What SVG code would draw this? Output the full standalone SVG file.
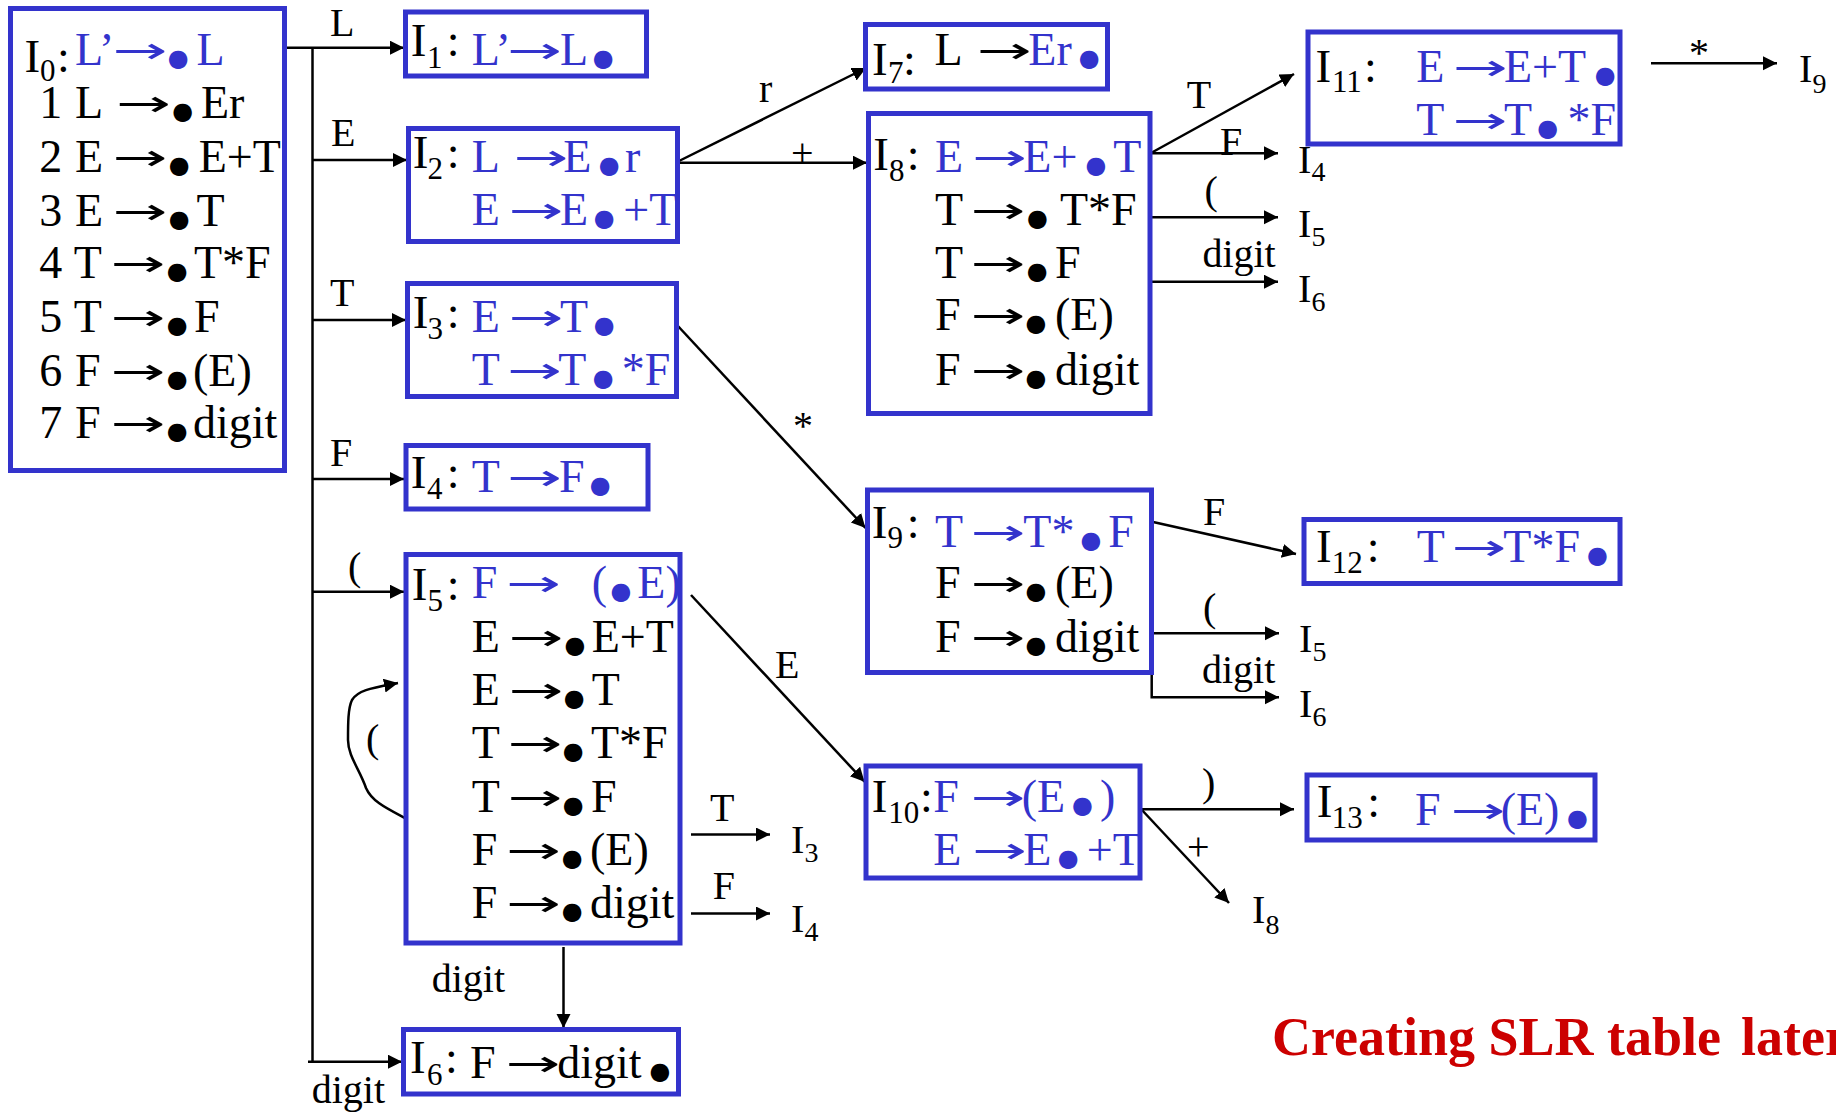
<svg xmlns="http://www.w3.org/2000/svg" width="1836" height="1114" viewBox="0 0 1836 1114">
<style>
.t{font-family:"Liberation Serif","Times New Roman",serif;font-size:46px;fill:#000}
.bl{fill:#3333CC}
.I{font-size:47px}
.s{font-size:31px}
.d{font-family:"DejaVu Sans",sans-serif;font-size:24px}
.a{font-family:"DejaVu Sans",sans-serif;font-size:36px}
.lb{font-family:"Liberation Serif","Times New Roman",serif;font-size:40px;fill:#000}
.ls{font-size:28px}
.box{fill:#fff;stroke:#3333CC;stroke-width:5}
.ln{fill:none;stroke:#000;stroke-width:2.5}
.red{font-family:"Liberation Serif","Times New Roman",serif;font-size:54px;font-weight:bold;fill:#CC0000}
</style>
<defs>
<marker id="ah" markerUnits="userSpaceOnUse" markerWidth="16" markerHeight="16" refX="14" refY="7" orient="auto">
<path d="M0,0 L14,7 L0,14 z" fill="#000"/>
</marker>
</defs>
<rect width="1836" height="1114" fill="#fff"/>

<g id="connectors">
<path class="ln" d="M284,47.7 H404" marker-end="url(#ah)"/>
<path class="ln" d="M312.5,47.7 V1061.7"/>
<path class="ln" d="M312.5,160 H407" marker-end="url(#ah)"/>
<path class="ln" d="M312.5,320 H406" marker-end="url(#ah)"/>
<path class="ln" d="M312.5,479 H404" marker-end="url(#ah)"/>
<path class="ln" d="M312.5,591.7 H404" marker-end="url(#ah)"/>
<path class="ln" d="M308,1061.7 H402" marker-end="url(#ah)"/>
<path class="ln" d="M406.7,819 C388,809 372,802 366,788 C360,770 348,756 348,740 C348,724 348,708 352,700 C358,690 372,688 398,683" marker-end="url(#ah)"/>
<path class="ln" d="M563.5,947 V1028" marker-end="url(#ah)"/>
<path class="ln" d="M691,834.5 H770" marker-end="url(#ah)"/>
<path class="ln" d="M691,913.5 H770" marker-end="url(#ah)"/>
<path class="ln" d="M691,595 L864.5,781.7" marker-end="url(#ah)"/>
<path class="ln" d="M677,162 L866,68" marker-end="url(#ah)"/>
<path class="ln" d="M677,162.7 H867" marker-end="url(#ah)"/>
<path class="ln" d="M677,325 L865.5,528" marker-end="url(#ah)"/>
<path class="ln" d="M1151,153 L1294,74" marker-end="url(#ah)"/>
<path class="ln" d="M1151,153.3 H1278" marker-end="url(#ah)"/>
<path class="ln" d="M1151,217.3 H1278" marker-end="url(#ah)"/>
<path class="ln" d="M1151,281.7 H1278" marker-end="url(#ah)"/>
<path class="ln" d="M1152,521.7 L1296,554" marker-end="url(#ah)"/>
<path class="ln" d="M1152,633.3 H1279" marker-end="url(#ah)"/>
<path class="ln" d="M1151.7,672.7 V697.3 H1279" marker-end="url(#ah)"/>
<path class="ln" d="M1141,809.3 H1294" marker-end="url(#ah)"/>
<path class="ln" d="M1141,809 L1229,903" marker-end="url(#ah)"/>
<path class="ln" d="M1651,63.3 H1777" marker-end="url(#ah)"/>
</g>

<g id="edge-labels">
<text class="lb" x="330" y="36">L</text>
<text class="lb" x="331" y="146">E</text>
<text class="lb" x="330" y="306">T</text>
<text class="lb" x="330" y="466">F</text>
<text class="lb" x="348" y="580">(</text>
<text class="lb" x="366" y="752">(</text>
<text class="lb" x="759" y="101.7">r</text>
<text class="lb" x="791" y="166">+</text>
<text class="lb" x="793" y="439">*</text>
<text class="lb" x="775" y="677.6">E</text>
<text class="lb" x="710" y="820.7">T</text>
<text class="lb" x="712.7" y="899">F</text>
<text class="lb" x="431.7" y="991.7">digit</text>
<text class="lb" x="311.7" y="1103">digit</text>
<text class="lb" x="1186.8" y="108.3">T</text>
<text class="lb" x="1220" y="155">F</text>
<text class="lb" x="1204.6" y="204">(</text>
<text class="lb" x="1202.4" y="267">digit</text>
<text class="lb" x="1203" y="525">F</text>
<text class="lb" x="1203" y="621">(</text>
<text class="lb" x="1202" y="683">digit</text>
<text class="lb" x="1202" y="796">)</text>
<text class="lb" x="1187" y="860">+</text>
<text class="lb" x="1689" y="66">*</text>
<text class="lb" x="1298" y="173">I<tspan class="ls" x="1311.5" y="181">4</tspan></text>
<text class="lb" x="1298" y="236.7">I<tspan class="ls" x="1311.5" y="246">5</tspan></text>
<text class="lb" x="1298" y="301.7">I<tspan class="ls" x="1311.5" y="311">6</tspan></text>
<text class="lb" x="1299" y="651.7">I<tspan class="ls" x="1312.5" y="661">5</tspan></text>
<text class="lb" x="1299" y="716.7">I<tspan class="ls" x="1312.5" y="726">6</tspan></text>
<text class="lb" x="791" y="853">I<tspan class="ls" x="804.5" y="862">3</tspan></text>
<text class="lb" x="791" y="931.6">I<tspan class="ls" x="804.5" y="941">4</tspan></text>
<text class="lb" x="1252" y="923">I<tspan class="ls" x="1265.5" y="934">8</tspan></text>
<text class="lb" x="1799" y="81.7">I<tspan class="ls" x="1812.5" y="92.5">9</tspan></text>
</g>

<g id="I0">
<rect class="box" x="10.5" y="8.5" width="274" height="462"/>
<text class="t"><tspan class="I" x="24.5" y="71.7">I</tspan><tspan class="s" x="40" y="81">0</tspan><tspan x="57" y="71.7">:</tspan><tspan class="bl" x="75" y="65">L’</tspan><tspan class="bl a" x="112.4" y="65" dy="-2" textLength="55" lengthAdjust="spacingAndGlyphs">→</tspan><tspan class="bl d" x="167.7" y="66">●</tspan><tspan class="bl" x="196.4" y="65">L</tspan></text>
<text class="t"><tspan x="39.3" y="118.3">1</tspan><tspan x="75" y="118.3">L</tspan><tspan class="a" x="115.9" y="118.3" dy="-2" textLength="55" lengthAdjust="spacingAndGlyphs">→</tspan><tspan class="d" x="172.2" y="119.3">●</tspan><tspan x="201" y="118.3">Er</tspan></text>
<text class="t"><tspan x="39.3" y="171.7">2</tspan><tspan x="75" y="171.7">E</tspan><tspan class="a" x="112.4" y="171.7" dy="-2" textLength="55" lengthAdjust="spacingAndGlyphs">→</tspan><tspan class="d" x="168.7" y="172.7">●</tspan><tspan x="198.7" y="171.7">E+T</tspan></text>
<text class="t"><tspan x="39.3" y="226">3</tspan><tspan x="75" y="226">E</tspan><tspan class="a" x="112.4" y="226" dy="-2" textLength="55" lengthAdjust="spacingAndGlyphs">→</tspan><tspan class="d" x="168.7" y="227">●</tspan><tspan x="196.4" y="226">T</tspan></text>
<text class="t"><tspan x="39.3" y="278.3">4</tspan><tspan x="73.7" y="278.3">T</tspan><tspan class="a" x="110.4" y="278.3" dy="-2" textLength="55" lengthAdjust="spacingAndGlyphs">→</tspan><tspan class="d" x="166.7" y="279.3">●</tspan><tspan x="194" y="278.3">T*F</tspan></text>
<text class="t"><tspan x="39.3" y="331.7">5</tspan><tspan x="73.7" y="331.7">T</tspan><tspan class="a" x="110.4" y="331.7" dy="-2" textLength="55" lengthAdjust="spacingAndGlyphs">→</tspan><tspan class="d" x="166.7" y="332.7">●</tspan><tspan x="194" y="331.7">F</tspan></text>
<text class="t"><tspan x="39.3" y="386">6</tspan><tspan x="75" y="386">F</tspan><tspan class="a" x="110.4" y="386" dy="-2" textLength="55" lengthAdjust="spacingAndGlyphs">→</tspan><tspan class="d" x="166.7" y="387">●</tspan><tspan x="193" y="386">(E)</tspan></text>
<text class="t"><tspan x="39.3" y="438.3">7</tspan><tspan x="75" y="438.3">F</tspan><tspan class="a" x="110.4" y="438.3" dy="-2" textLength="55" lengthAdjust="spacingAndGlyphs">→</tspan><tspan class="d" x="166.7" y="439.3">●</tspan><tspan x="193" y="438.3">digit</tspan></text>
</g>

<g id="I1">
<rect class="box" x="405.5" y="12" width="241" height="64"/>
<text class="t"><tspan class="I" x="410.7" y="56">I</tspan><tspan class="s" x="427" y="68">1</tspan><tspan x="446.7" y="56">:</tspan><tspan class="bl" x="471.7" y="65">L’</tspan><tspan class="bl a" x="507.1" y="65" dy="-2" textLength="55" lengthAdjust="spacingAndGlyphs">→</tspan><tspan class="bl" x="560" y="65">L</tspan><tspan class="bl d" x="592.7" y="66">●</tspan></text>
</g>

<g id="I2">
<rect class="box" x="408.5" y="128.5" width="269" height="113"/>
<text class="t"><tspan class="I" x="412.7" y="168.3">I</tspan><tspan class="s" x="427.5" y="179">2</tspan><tspan x="446.7" y="168.3">:</tspan><tspan class="bl" x="471.7" y="171.7">L</tspan><tspan class="bl a" x="513.4" y="171.7" dy="-2" textLength="55" lengthAdjust="spacingAndGlyphs">→</tspan><tspan class="bl" x="563.3" y="171.7">E</tspan><tspan class="bl d" x="598.7" y="172.7">●</tspan><tspan class="bl" x="625" y="171.7">r</tspan></text>
<text class="t bl"><tspan x="471.7" y="225">E</tspan><tspan class="a" x="508.4" y="225" dy="-2" textLength="55" lengthAdjust="spacingAndGlyphs">→</tspan><tspan x="560" y="225">E</tspan><tspan class="d" x="593.7" y="226">●</tspan><tspan x="623.3" y="225">+T</tspan></text>
</g>

<g id="I3">
<rect class="box" x="407.5" y="283.5" width="269" height="113"/>
<text class="t"><tspan class="I" x="412.7" y="328">I</tspan><tspan class="s" x="427.5" y="339">3</tspan><tspan x="446.7" y="328">:</tspan><tspan class="bl" x="471.7" y="331.7">E</tspan><tspan class="bl a" x="508.4" y="331.7" dy="-2" textLength="55" lengthAdjust="spacingAndGlyphs">→</tspan><tspan class="bl" x="560" y="331.7">T</tspan><tspan class="bl d" x="593.7" y="332.7">●</tspan></text>
<text class="t bl"><tspan x="471.7" y="385">T</tspan><tspan class="a" x="507.1" y="385" dy="-2" textLength="55" lengthAdjust="spacingAndGlyphs">→</tspan><tspan x="558.3" y="385">T</tspan><tspan class="d" x="592.7" y="386">●</tspan><tspan x="621.7" y="385">*F</tspan></text>
</g>

<g id="I4">
<rect class="box" x="406" y="445.5" width="242" height="63.5"/>
<text class="t"><tspan class="I" x="410.7" y="488">I</tspan><tspan class="s" x="427" y="499">4</tspan><tspan x="446.7" y="488">:</tspan><tspan class="bl" x="471.7" y="491.7">T</tspan><tspan class="bl a" x="507.1" y="491.7" dy="-2" textLength="55" lengthAdjust="spacingAndGlyphs">→</tspan><tspan class="bl" x="559" y="491.7">F</tspan><tspan class="bl d" x="589.7" y="492.7">●</tspan></text>
</g>

<g id="I5">
<rect class="box" x="406" y="554.5" width="274" height="388.5"/>
<text class="t"><tspan class="I" x="411.7" y="600">I</tspan><tspan class="s" x="427.5" y="611">5</tspan><tspan x="446.7" y="600">:</tspan><tspan class="bl" x="471.7" y="598.3">F</tspan><tspan class="bl a" x="506.1" y="598.3" dy="-2" textLength="55" lengthAdjust="spacingAndGlyphs">→</tspan><tspan class="bl" x="591.7" y="598.3">(</tspan><tspan class="bl d" x="610.4" y="599.3">●</tspan><tspan class="bl" x="637.3" y="598.3">E)</tspan></text>
<text class="t"><tspan x="471.7" y="651.7">E</tspan><tspan class="a" x="508.4" y="651.7" dy="-2" textLength="55" lengthAdjust="spacingAndGlyphs">→</tspan><tspan class="d" x="564.4" y="652.7">●</tspan><tspan x="591.7" y="651.7">E+T</tspan></text>
<text class="t"><tspan x="471.7" y="705">E</tspan><tspan class="a" x="508.4" y="705" dy="-2" textLength="55" lengthAdjust="spacingAndGlyphs">→</tspan><tspan class="d" x="563.7" y="706">●</tspan><tspan x="591.7" y="705">T</tspan></text>
<text class="t"><tspan x="471.7" y="758.3">T</tspan><tspan class="a" x="507.4" y="758.3" dy="-2" textLength="55" lengthAdjust="spacingAndGlyphs">→</tspan><tspan class="d" x="562.7" y="759.3">●</tspan><tspan x="591" y="758.3">T*F</tspan></text>
<text class="t"><tspan x="471.7" y="811.7">T</tspan><tspan class="a" x="507.4" y="811.7" dy="-2" textLength="55" lengthAdjust="spacingAndGlyphs">→</tspan><tspan class="d" x="562.7" y="812.7">●</tspan><tspan x="591" y="811.7">F</tspan></text>
<text class="t"><tspan x="471.7" y="865">F</tspan><tspan class="a" x="506.1" y="865" dy="-2" textLength="55" lengthAdjust="spacingAndGlyphs">→</tspan><tspan class="d" x="561.7" y="866">●</tspan><tspan x="590" y="865">(E)</tspan></text>
<text class="t"><tspan x="471.7" y="918.3">F</tspan><tspan class="a" x="506.1" y="918.3" dy="-2" textLength="55" lengthAdjust="spacingAndGlyphs">→</tspan><tspan class="d" x="561.7" y="919.3">●</tspan><tspan x="590" y="918.3">digit</tspan></text>
</g>

<g id="I6">
<rect class="box" x="403.5" y="1029.5" width="275" height="64.5"/>
<text class="t"><tspan class="I" x="410" y="1073.3">I</tspan><tspan class="s" x="427" y="1085">6</tspan><tspan x="445" y="1073.3">:</tspan><tspan x="470" y="1078.3">F</tspan><tspan class="a" x="505.4" y="1078.3" dy="-2" textLength="55" lengthAdjust="spacingAndGlyphs">→</tspan><tspan x="557.3" y="1078.3">digit</tspan><tspan class="d" x="649.4" y="1079.3">●</tspan></text>
</g>

<g id="I7">
<rect class="box" x="865.5" y="24.5" width="242" height="64.5"/>
<text class="t"><tspan class="I" x="872" y="75">I</tspan><tspan class="s" x="888" y="83">7</tspan><tspan x="903" y="75">:</tspan><tspan x="934.6" y="65">L</tspan><tspan class="a" x="976.8" y="65" dy="-2" textLength="55" lengthAdjust="spacingAndGlyphs">→</tspan><tspan class="bl" x="1028.3" y="65">Er</tspan><tspan class="bl d" x="1078.7" y="66">●</tspan></text>
</g>

<g id="I8">
<rect class="box" x="868.5" y="113.5" width="281.5" height="300"/>
<text class="t"><tspan class="I" x="873.3" y="170">I</tspan><tspan class="s" x="889" y="181">8</tspan><tspan x="906.7" y="170">:</tspan><tspan class="bl" x="935" y="171.7">E</tspan><tspan class="bl a" x="972.1" y="171.7" dy="-2" textLength="55" lengthAdjust="spacingAndGlyphs">→</tspan><tspan class="bl" x="1023.3" y="171.7">E+</tspan><tspan class="bl d" x="1085.4" y="172.7">●</tspan><tspan class="bl" x="1113.3" y="171.7">T</tspan></text>
<text class="t"><tspan x="935" y="225">T</tspan><tspan class="a" x="970.4" y="225" dy="-2" textLength="55" lengthAdjust="spacingAndGlyphs">→</tspan><tspan class="d" x="1027" y="226">●</tspan><tspan x="1060" y="225">T*F</tspan></text>
<text class="t"><tspan x="935" y="278.3">T</tspan><tspan class="a" x="970.4" y="278.3" dy="-2" textLength="55" lengthAdjust="spacingAndGlyphs">→</tspan><tspan class="d" x="1026.7" y="279.3">●</tspan><tspan x="1055" y="278.3">F</tspan></text>
<text class="t"><tspan x="935" y="330">F</tspan><tspan class="a" x="970.4" y="330" dy="-2" textLength="55" lengthAdjust="spacingAndGlyphs">→</tspan><tspan class="d" x="1025.4" y="331">●</tspan><tspan x="1055" y="330">(E)</tspan></text>
<text class="t"><tspan x="935" y="385">F</tspan><tspan class="a" x="970.4" y="385" dy="-2" textLength="55" lengthAdjust="spacingAndGlyphs">→</tspan><tspan class="d" x="1025.4" y="386">●</tspan><tspan x="1055" y="385">digit</tspan></text>
</g>

<g id="I9">
<rect class="box" x="867.5" y="490" width="284" height="182.5"/>
<text class="t"><tspan class="I" x="871.7" y="538.3">I</tspan><tspan class="s" x="887.5" y="548">9</tspan><tspan x="906.7" y="538.3">:</tspan><tspan class="bl" x="935" y="546.7">T</tspan><tspan class="bl a" x="970.4" y="546.7" dy="-2" textLength="55" lengthAdjust="spacingAndGlyphs">→</tspan><tspan class="bl" x="1023.3" y="546.7">T*</tspan><tspan class="bl d" x="1080.4" y="547.7">●</tspan><tspan class="bl" x="1108.3" y="546.7">F</tspan></text>
<text class="t"><tspan x="935" y="598.3">F</tspan><tspan class="a" x="970.4" y="598.3" dy="-2" textLength="55" lengthAdjust="spacingAndGlyphs">→</tspan><tspan class="d" x="1025.4" y="599.3">●</tspan><tspan x="1055" y="598.3">(E)</tspan></text>
<text class="t"><tspan x="935" y="651.7">F</tspan><tspan class="a" x="970.4" y="651.7" dy="-2" textLength="55" lengthAdjust="spacingAndGlyphs">→</tspan><tspan class="d" x="1025.4" y="652.7">●</tspan><tspan x="1055" y="651.7">digit</tspan></text>
</g>

<g id="I10">
<rect class="box" x="866" y="766" width="274" height="112"/>
<text class="t"><tspan class="I" x="871.7" y="811.7">I</tspan><tspan class="s" x="888.3" y="823">10</tspan><tspan x="920" y="811.7">:</tspan><tspan class="bl" x="933.3" y="811.7">F</tspan><tspan class="bl a" x="970.4" y="811.7" dy="-2" textLength="55" lengthAdjust="spacingAndGlyphs">→</tspan><tspan class="bl" x="1021.7" y="811.7">(E</tspan><tspan class="bl d" x="1072" y="812.7">●</tspan><tspan class="bl" x="1100" y="811.7">)</tspan></text>
<text class="t bl"><tspan x="933.3" y="865">E</tspan><tspan class="a" x="972.1" y="865" dy="-2" textLength="55" lengthAdjust="spacingAndGlyphs">→</tspan><tspan x="1023.3" y="865">E</tspan><tspan class="d" x="1057.7" y="866">●</tspan><tspan x="1086.7" y="865">+T</tspan></text>
</g>

<g id="I11">
<rect class="box" x="1308" y="32" width="312" height="112"/>
<text class="t"><tspan class="I" x="1315.4" y="81.7">I</tspan><tspan class="s" x="1332" y="91.7">11</tspan><tspan x="1364" y="81.7">:</tspan><tspan class="bl" x="1416.3" y="81.7">E</tspan><tspan class="bl a" x="1452.8" y="81.7" dy="-2" textLength="55" lengthAdjust="spacingAndGlyphs">→</tspan><tspan class="bl" x="1504" y="81.7">E+T</tspan><tspan class="bl d" x="1594.7" y="82.7">●</tspan></text>
<text class="t bl"><tspan x="1416.3" y="135">T</tspan><tspan class="a" x="1452.4" y="135" dy="-2" textLength="55" lengthAdjust="spacingAndGlyphs">→</tspan><tspan x="1504" y="135">T</tspan><tspan class="d" x="1537.3" y="136">●</tspan><tspan x="1567.6" y="135">*F</tspan></text>
</g>

<g id="I12">
<rect class="box" x="1304" y="519.5" width="316" height="64"/>
<text class="t"><tspan class="I" x="1316" y="561.7">I</tspan><tspan class="s" x="1331.7" y="573">12</tspan><tspan x="1366.7" y="561.7">:</tspan><tspan class="bl" x="1416.7" y="561.7">T</tspan><tspan class="bl a" x="1451.4" y="561.7" dy="-2" textLength="55" lengthAdjust="spacingAndGlyphs">→</tspan><tspan class="bl" x="1503.3" y="561.7">T*F</tspan><tspan class="bl d" x="1587" y="562.7">●</tspan></text>
</g>

<g id="I13">
<rect class="box" x="1307" y="775" width="288" height="65"/>
<text class="t"><tspan class="I" x="1316.7" y="816.7">I</tspan><tspan class="s" x="1331.7" y="828">13</tspan><tspan x="1367.3" y="816.7">:</tspan><tspan class="bl" x="1415" y="825">F</tspan><tspan class="bl a" x="1450.4" y="825" dy="-2" textLength="55" lengthAdjust="spacingAndGlyphs">→</tspan><tspan class="bl" x="1500.7" y="825">(E)</tspan><tspan class="bl d" x="1567" y="826">●</tspan></text>
</g>

<g id="note">
<text class="red" x="1272" y="1055">Creating SLR table<tspan x="1741">later</tspan></text>
</g>
</svg>
